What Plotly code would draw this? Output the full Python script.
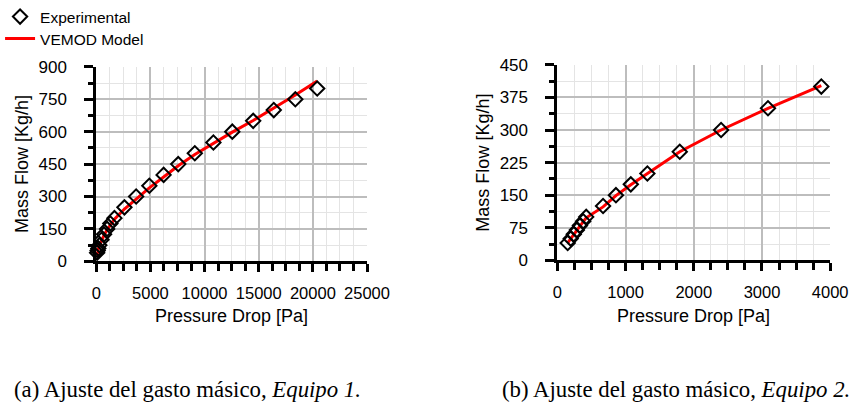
import plotly.graph_objects as go

# ---- Equipo 1 ----
exp1_dp = [80, 130, 190, 290, 480, 720, 1000, 1300, 1680, 2600, 3680, 4900,
           6220, 7570, 9100, 10815, 12560, 14490, 16390, 18380, 20400]
exp1_flow = [40, 50, 60, 75, 100, 125, 150, 175, 200, 250, 300, 350,
             400, 450, 500, 550, 600, 650, 700, 750, 800]
mod1_dp = [20, 80, 130, 190, 290, 480, 720, 1000, 1300, 1680, 2600, 3680, 4900,
           6220, 7570, 9100, 10815, 12560, 14490, 16390, 18380, 20400]
mod1_flow = [18, 38, 48, 58, 72, 97, 121, 146, 170, 195, 242, 290, 340,
             390, 442, 494, 546, 598, 652, 708, 770, 835]

# ---- Equipo 2 ----
exp2_dp = [150, 195, 240, 285, 330, 378, 422, 669, 858, 1076, 1319, 1794, 2400, 3088, 3870]
exp2_flow = [40, 50, 60, 70, 80, 90, 100, 125, 150, 175, 200, 250, 300, 350, 400]
mod2_dp = exp2_dp
mod2_flow = [40, 49, 59, 69, 79, 89, 98, 123, 149, 174, 200, 250, 300, 350, 402]

x1_ticks = [0, 5000, 10000, 15000, 20000, 25000]
y1_ticks = [0, 150, 300, 450, 600, 750, 900]
x2_ticks = [0, 1000, 2000, 3000, 4000]
y2_ticks = [0, 75, 150, 225, 300, 375, 450]

W, H = 851, 406
FONT = "Liberation Sans, Arial, sans-serif"
SERIF = "Liberation Serif, Times New Roman, serif"
RED = "#ff0000"

X1_DOM = [90 / W, 363 / W]
X2_DOM = [555 / W, 830 / W]

fig = go.Figure()

marker = dict(symbol="diamond-open", size=11, color="black", line=dict(width=2, color="black"))

fig.add_trace(go.Scatter(x=mod1_dp, y=mod1_flow, mode="lines", name="VEMOD Model",
                         line=dict(color=RED, width=3), xaxis="x", yaxis="y",
                         legend="legend2"))
fig.add_trace(go.Scatter(x=exp1_dp, y=exp1_flow, mode="markers", name="Experimental",
                         marker=marker, xaxis="x", yaxis="y", cliponaxis=False,
                         legend="legend"))
fig.add_trace(go.Scatter(x=mod2_dp, y=mod2_flow, mode="lines", name="VEMOD Model",
                         line=dict(color=RED, width=3), xaxis="x2", yaxis="y2",
                         showlegend=False))
fig.add_trace(go.Scatter(x=exp2_dp, y=exp2_flow, mode="markers", name="Experimental",
                         marker=marker, xaxis="x2", yaxis="y2", cliponaxis=False,
                         showlegend=False))


def xaxis(domain, rng, ticks, minor, anchor):
    return dict(domain=domain, range=rng, tickvals=ticks, ticktext=[str(t) for t in ticks],
                anchor=anchor, automargin=False,
                showline=True, linecolor="black", linewidth=3,
                ticks="outside", ticklen=8, tickwidth=2.5, tickcolor="black",
                showgrid=True, gridcolor="#bdbdbd", gridwidth=1.5,
                minor=dict(dtick=minor, ticks="outside", ticklen=7, tickwidth=2.5,
                           tickcolor="black", showgrid=True, gridcolor="#e4e4e4",
                           gridwidth=1),
                zeroline=False, ticklabelstandoff=7,
                tickfont=dict(family=FONT, size=16.5, color="black"))


def yaxis(domain, rng, ticks, minor, anchor):
    return dict(domain=domain, range=rng, tickvals=ticks, ticktext=[str(t) for t in ticks],
                anchor=anchor, automargin=False,
                showline=True, linecolor="black", linewidth=3,
                ticks="outside", ticklen=9, tickwidth=2.5, tickcolor="black",
                showgrid=True, gridcolor="#bdbdbd", gridwidth=1.5,
                minor=dict(dtick=minor, ticks="outside", ticklen=5, tickwidth=2.5,
                           tickcolor="black", showgrid=True, gridcolor="#e4e4e4",
                           gridwidth=1),
                zeroline=False, ticklabelstandoff=14,
                tickfont=dict(family=FONT, size=17, color="black"),
                title=dict(text="Mass Flow [Kg/h]", standoff=6,
                           font=dict(family=FONT, size=18, color="black")))


legend_style = dict(xanchor="left", yanchor="middle", bgcolor="rgba(0,0,0,0)",
                    font=dict(family=FONT, size=15.5, color="black"), borderwidth=0)


def xtitle(domain):
    return dict(text="Pressure Drop [Pa]", x=sum(domain) / 2, y=1 - 316 / H,
                xref="paper", yref="paper", showarrow=False,
                xanchor="center", yanchor="middle",
                font=dict(family=FONT, size=18, color="black"))


def caption(text, xc):
    return dict(text=text, x=xc / W, y=1 - 389 / H, xref="paper", yref="paper",
                showarrow=False, xanchor="center", yanchor="middle",
                font=dict(family=SERIF, size=22.8, color="black"))


fig.update_layout(
    width=W, height=H,
    margin=dict(l=0, r=0, t=0, b=0),
    paper_bgcolor="white", plot_bgcolor="white",
    xaxis=xaxis(X1_DOM, [0, 25000], x1_ticks, 1250, "y"),
    yaxis=yaxis([1 - 261 / H, 1 - 66 / H], [0, 900], y1_ticks, 75, "x"),
    xaxis2=xaxis(X2_DOM, [0, 4000], x2_ticks, 250, "y2"),
    yaxis2=yaxis([1 - 260 / H, 1 - 64 / H], [0, 450], y2_ticks, 37.5, "x2"),
    showlegend=True,
    legend=dict(x=-7 / W, y=1 - 16 / H, **legend_style),
    legend2=dict(x=-7 / W, y=1 - 38 / H, **legend_style),
    annotations=[
        xtitle(X1_DOM),
        xtitle(X2_DOM),
        caption("(a) Ajuste del gasto másico, <i>Equipo 1.</i>", 182),
        caption("(b) Ajuste del gasto másico, <i>Equipo 2.</i>", 675),
    ],
)

fig.write_html("out.html")
